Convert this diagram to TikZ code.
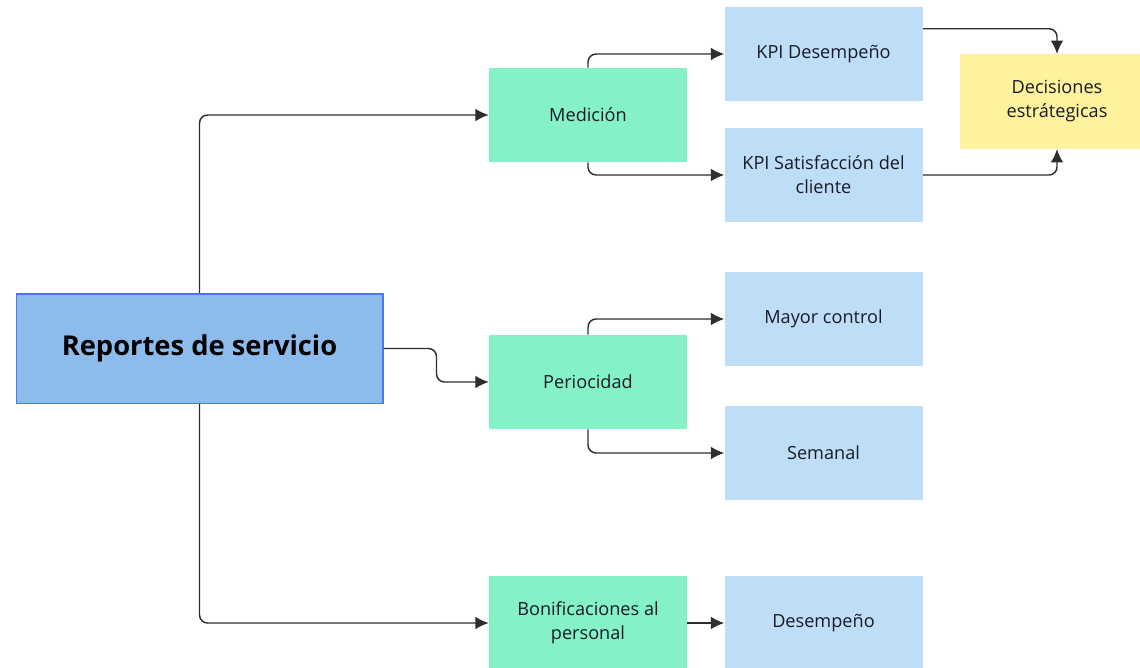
\documentclass[tikz,border=0pt]{standalone}
\usepackage{fontspec}
\setmainfont{Open Sans}
\usetikzlibrary{arrows.meta}
\definecolor{repfill}{HTML}{8CBBEC}
\definecolor{repline}{HTML}{4A78F5}
\definecolor{verde}{HTML}{84F2C6}
\definecolor{celeste}{HTML}{BEDEF8}
\definecolor{amarillo}{HTML}{FEF29C}
\definecolor{linea}{HTML}{2E2E2E}
\definecolor{texto}{HTML}{1A1A26}
\tikzset{
  caja/.style={inner sep=0pt, minimum width=148.5pt, minimum height=70.5pt, align=center,
    text=texto, font=\fontsize{13.6}{18}\selectfont},
  tema/.style={caja, fill=verde},
  hoja/.style={caja, fill=celeste},
  meta/.style={caja, fill=amarillo, minimum width=145.5pt, minimum height=71pt},
  flecha/.style={draw=linea, line width=1.1pt, rounded corners=6pt, -{Latex[length=10pt,width=9.5pt]}}
}
\begin{document}
\begin{tikzpicture}[x=0.75pt,y=-0.75pt]
        \useasboundingbox (0,0) rectangle (1140,668);
        \node[draw=repline, fill=repfill, line width=1pt, minimum width=275pt, minimum height=82pt,
          inner sep=0pt, text=black, font=\fontsize{20.5}{24}\selectfont\bfseries] (rep) at (199.5,348.5) {Reportes de servicio};
        \node[tema] (med) at (588,115) {Medición};
        \node[tema] (per) at (588,382) {Periocidad};
        \node[tema] (bon) at (588,623) {Bonificaciones al\\personal};
        \node[hoja] (kpid) at (823.5,54) {KPI Desempeño};
        \node[hoja] (kpis) at (823.5,175) {KPI Satisfacción del\\cliente};
        \node[hoja] (may) at (823.5,319) {Mayor control};
        \node[hoja] (sem) at (823.5,453) {Semanal};
        \node[hoja] (des) at (823.5,623) {Desempeño};
        \node[meta] (dec) at (1057,101.5) {Decisiones\\estrátegicas};
        % conectores
        \draw[flecha] (rep.north) |- (med.west);
        \draw[flecha] (rep.east) -- ++(53,0) |- (per.west);
        \draw[flecha] (rep.south) |- (bon.west);
        \draw[flecha] (med.north) |- (kpid.west);
        \draw[flecha] (med.south) |- (kpis.west);
        \draw[flecha] (per.north) |- (may.west);
        \draw[flecha] (per.south) |- (sem.west);
        \draw[flecha] (bon) -- (des);
        \draw[flecha] ([yshift=-16.5pt]kpid.north east) -| (dec.north);
        \draw[flecha] (kpis.east) -| (dec.south);
\end{tikzpicture}
\end{document}
